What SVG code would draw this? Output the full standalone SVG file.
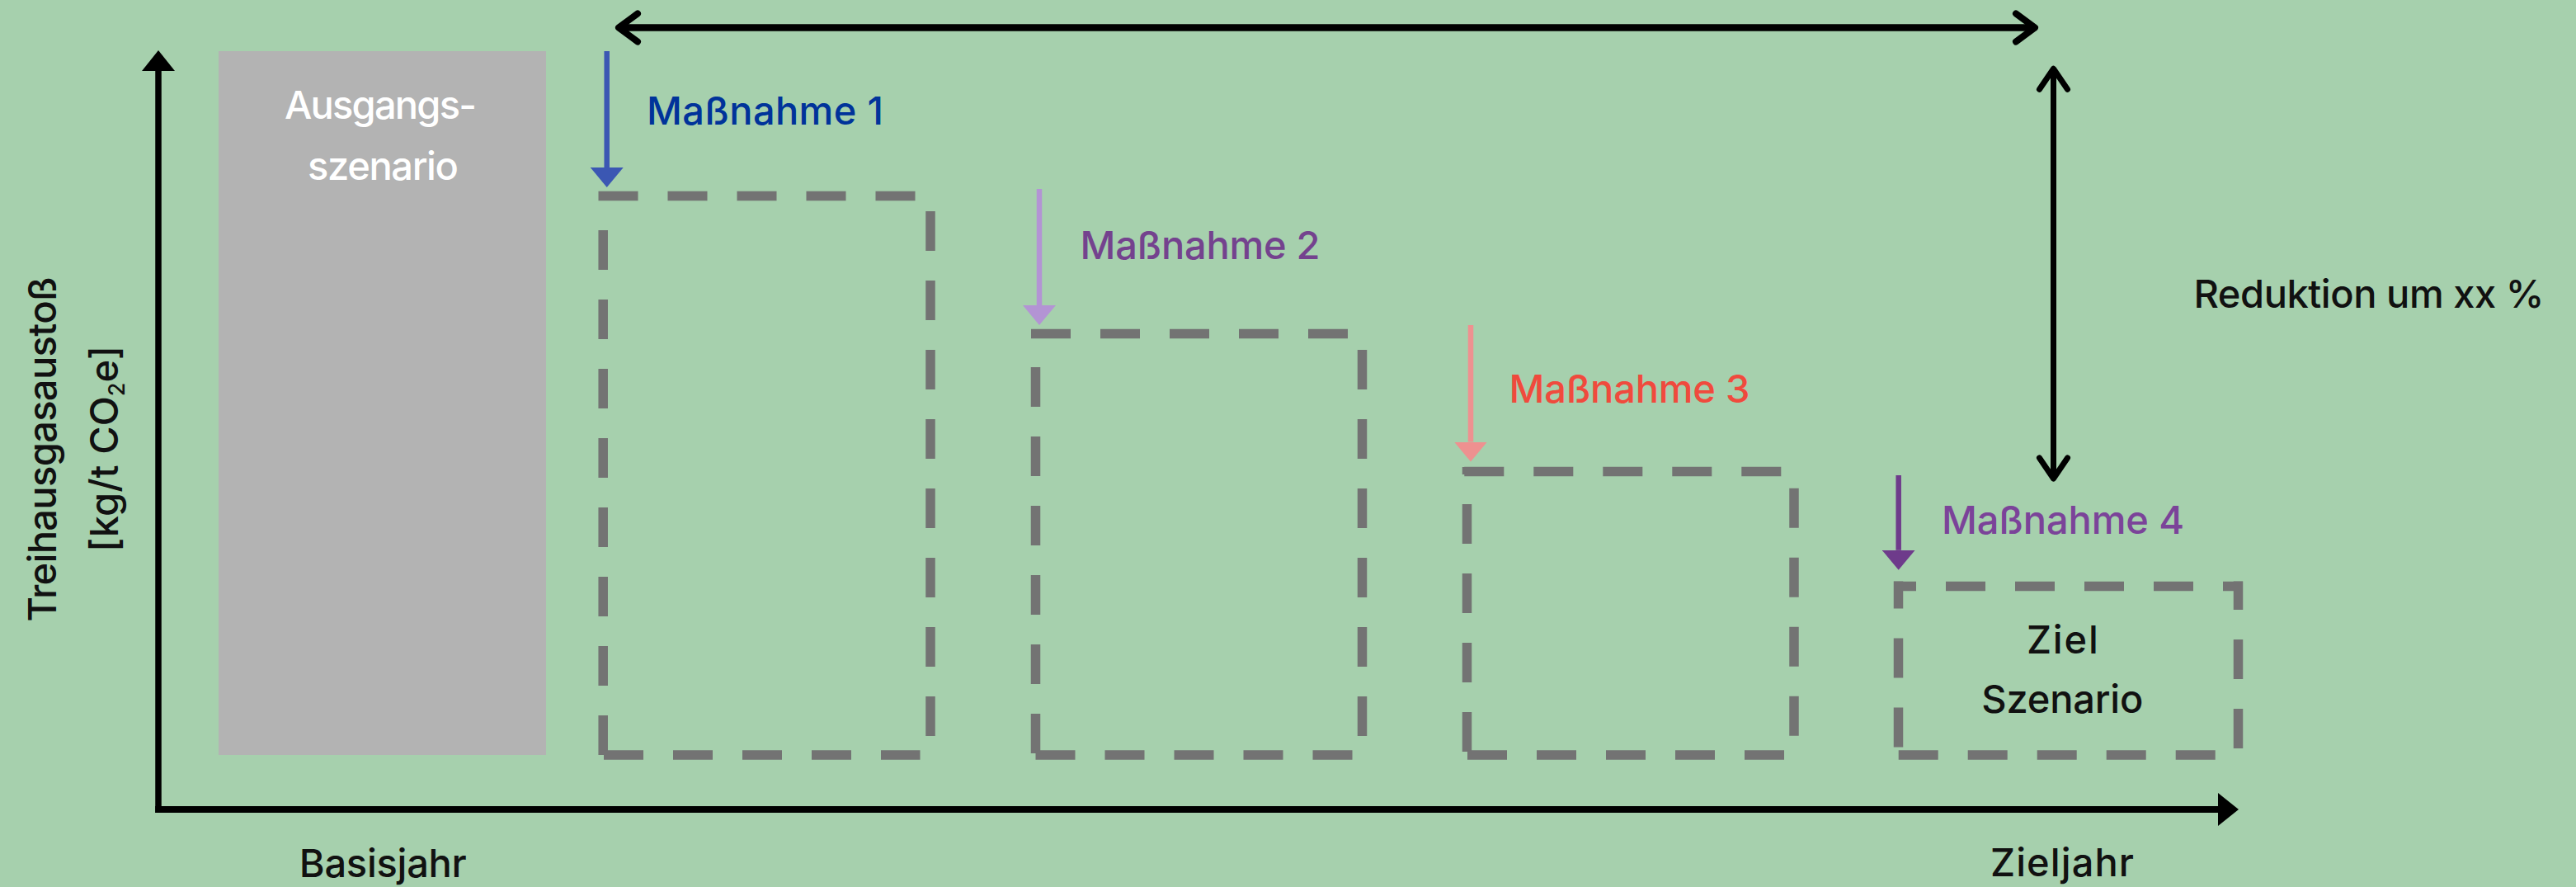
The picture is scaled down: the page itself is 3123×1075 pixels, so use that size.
<svg xmlns="http://www.w3.org/2000/svg" width="3123" height="1075" viewBox="0 0 3123 1075">
<defs>
<style>
text { font-family: Inter, "Liberation Sans", sans-serif; font-size: 47px; font-weight: 500; }
.dash { stroke: #737373; stroke-width: 11.5; stroke-dasharray: 48 36; fill: none; }
.lbl { fill: #111111; }
.mid { text-anchor: middle; }
.arr { stroke-width: 6.5; fill: none; }
</style>
<marker id="hBlue" markerUnits="userSpaceOnUse" viewBox="0 -20 24 40" refX="0" refY="0" markerWidth="24" markerHeight="40" orient="auto"><path d="M0,-20 L24,0 L0,20 Z" fill="#3b57b3"/></marker>
<marker id="hLilac" markerUnits="userSpaceOnUse" viewBox="0 -20 24 40" refX="0" refY="0" markerWidth="24" markerHeight="40" orient="auto"><path d="M0,-20 L24,0 L0,20 Z" fill="#b394d4"/></marker>
<marker id="hPink" markerUnits="userSpaceOnUse" viewBox="0 -20 24 40" refX="0" refY="0" markerWidth="24" markerHeight="40" orient="auto"><path d="M0,-20 L24,0 L0,20 Z" fill="#ee9190"/></marker>
<marker id="hPurple" markerUnits="userSpaceOnUse" viewBox="0 -20 24 40" refX="0" refY="0" markerWidth="24" markerHeight="40" orient="auto"><path d="M0,-20 L24,0 L0,20 Z" fill="#6e3b8b"/></marker>
<marker id="hBlack" markerUnits="userSpaceOnUse" viewBox="0 -20 25 40" refX="0" refY="0" markerWidth="25" markerHeight="40" orient="auto"><path d="M0,-20 L25,0 L0,20 Z" fill="#000000"/></marker>
<marker id="chevH" markerUnits="userSpaceOnUse" viewBox="-30 -24 36 48" refX="0" refY="0" markerWidth="36" markerHeight="48" orient="auto-start-reverse" overflow="visible"><path d="M-23,-17 L0,0 L-23,17" fill="none" stroke="#000" stroke-width="8" stroke-linecap="round" stroke-linejoin="round"/></marker>
<marker id="chevV" markerUnits="userSpaceOnUse" viewBox="-32 -24 38 48" refX="0" refY="0" markerWidth="38" markerHeight="48" orient="auto-start-reverse" overflow="visible"><path d="M-25,-17 L0,0 L-25,17" fill="none" stroke="#000" stroke-width="7" stroke-linecap="round" stroke-linejoin="round"/></marker>
</defs>

<rect id="background" x="0" y="0" width="3123" height="1075" fill="#a6d0ad"/>

<g id="y-axis-label" class="lbl">
<text class="mid" transform="translate(68.3,544.5) rotate(-90)" font-size="47" textLength="418">Treihausgasaustoß</text>
<text class="mid" transform="translate(143.3,544) rotate(-90)" font-size="40" textLength="250">[kg/t CO<tspan font-size="27" dy="8">2</tspan><tspan dy="-8">e]</tspan></text>
</g>

<g id="ausgangsszenario">
<rect x="265" y="62" width="397" height="853" fill="#b3b3b3"/>
<text class="mid" x="461.5" y="143.5" fill="#ffffff" textLength="233">Ausgangs-</text>
<text class="mid" x="464.5" y="218.3" fill="#ffffff" textLength="183">szenario</text>
</g>

<g id="box-massnahme-1">
<line class="dash" x1="725.5" y1="237.5" x2="1110" y2="237.5"/>
<line class="dash" x1="731.2" y1="279" x2="731.2" y2="915"/>
<line class="dash" x1="1128" y1="256" x2="1128" y2="892"/>
<line class="dash" x1="732" y1="915" x2="1115.5" y2="915"/>
</g>

<g id="box-massnahme-2">
<line class="dash" x1="1250" y1="404.5" x2="1635" y2="404.5"/>
<line class="dash" x1="1255.5" y1="445" x2="1255.5" y2="913"/>
<line class="dash" x1="1651.5" y1="424" x2="1651.5" y2="892"/>
<line class="dash" x1="1255.5" y1="915" x2="1640" y2="915"/>
</g>

<g id="box-massnahme-3">
<line class="dash" x1="1775.3" y1="571.5" x2="2160" y2="571.5"/>
<line class="dash" x1="1778.5" y1="566" x2="1778.5" y2="911" stroke-dashoffset="39"/>
<line class="dash" x1="2175" y1="591.7" x2="2175" y2="892"/>
<line class="dash" x1="1779" y1="915" x2="2163" y2="915"/>
</g>

<g id="ziel-szenario">
<line class="dash" x1="2296" y1="710.6" x2="2719" y2="710.6" stroke-dashoffset="21"/>
<line class="dash" x1="2301.5" y1="704.6" x2="2301.5" y2="906" stroke-dashoffset="15"/>
<line class="dash" x1="2713.5" y1="704.6" x2="2713.5" y2="907" stroke-dashoffset="13.6"/>
<line class="dash" x1="2301.7" y1="915" x2="2686" y2="915"/>
<text class="mid lbl" x="2500.4" y="792.3" textLength="87">Ziel</text>
<text class="mid lbl" x="2500.3" y="864" textLength="196">Szenario</text>
</g>

<g id="label-massnahme-1"><text x="784" y="151" fill="#00339a" textLength="287">Maßnahme 1</text></g>
<g id="label-massnahme-2"><text x="1309.5" y="314.3" fill="#74428e" textLength="291">Maßnahme 2</text></g>
<g id="label-massnahme-3"><text x="1829.5" y="488.3" fill="#f04a3d" textLength="292">Maßnahme 3</text></g>
<g id="label-massnahme-4"><text x="2354" y="646.7" fill="#7b4399" textLength="294">Maßnahme 4</text></g>
<g id="label-reduktion"><text class="lbl" x="2659.5" y="373.3" textLength="425">Reduktion um xx %</text></g>
<g id="label-basisjahr"><text class="mid lbl" x="464.3" y="1062.7" textLength="203">Basisjahr</text></g>
<g id="label-zieljahr"><text class="mid lbl" x="2500" y="1061.8" textLength="174">Zieljahr</text></g>

<g id="connectors">
<line x1="192" y1="985" x2="192" y2="86" stroke="#000" stroke-width="7.5" marker-end="url(#hBlack)"/>
<line x1="188.25" y1="981" x2="2689" y2="981" stroke="#000" stroke-width="8" marker-end="url(#hBlack)"/>
<line x1="750" y1="33.5" x2="2467" y2="33.5" stroke="#000" stroke-width="8.5" marker-start="url(#chevH)" marker-end="url(#chevH)"/>
<line x1="2489.5" y1="83.3" x2="2489.5" y2="580" stroke="#000" stroke-width="7" marker-start="url(#chevV)" marker-end="url(#chevV)"/>
<line class="arr" x1="735.7" y1="62" x2="735.7" y2="203" stroke="#3b57b3" marker-end="url(#hBlue)"/>
<line class="arr" x1="1260" y1="229" x2="1260" y2="370" stroke="#b394d4" marker-end="url(#hLilac)"/>
<line class="arr" x1="1783" y1="394" x2="1783" y2="535.5" stroke="#ee9190" marker-end="url(#hPink)"/>
<line class="arr" x1="2301.7" y1="576" x2="2301.7" y2="666.8" stroke="#6e3b8b" marker-end="url(#hPurple)"/>
</g>
</svg>
